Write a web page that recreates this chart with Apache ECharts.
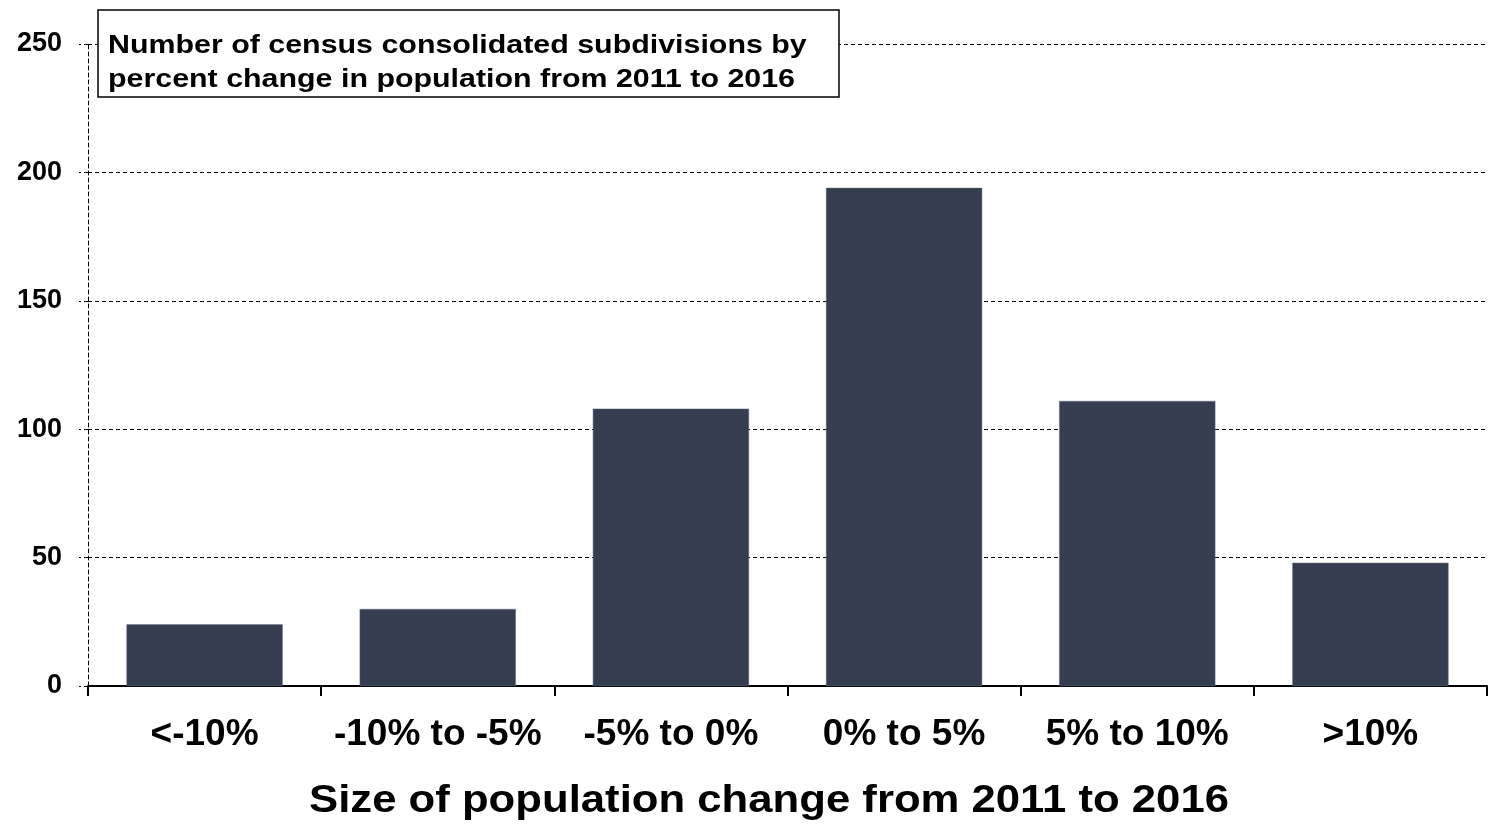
<!DOCTYPE html>
<html>
<head>
<meta charset="utf-8">
<script src="https://cdn.jsdelivr.net/npm/echarts@6/dist/echarts.min.js"></script>
<style>
  html, body { margin: 0; padding: 0; background: #ffffff; }
  #chart { width: 1497px; height: 827px; }
</style>
</head>
<body>
<div id="chart"></div>
<script>
// Census consolidated subdivisions grouped by population change, 2011–2016
const categories = ['<-10%', '-10% to -5%', '-5% to 0%', '0% to 5%', '5% to 10%', '>10%'];
const counts = [24, 30, 108, 194, 111, 48];
const yTicks = [0, 50, 100, 150, 200, 250];

const titleText = 'Number of census consolidated subdivisions by\npercent change in population from 2011 to 2016';
const axisTitle = 'Size of population change from 2011 to 2016';

const FONT = 'Liberation Sans, Arial, sans-serif';
const chart = echarts.init(document.getElementById('chart'), null, { renderer: 'canvas' });

chart.setOption({
  animation: false,
  backgroundColor: '#ffffff',
  grid: { left: 88, right: 10, top: 44, bottom: 141, containLabel: false },
  xAxis: {
    type: 'category',
    data: categories,
    axisLine: { lineStyle: { color: '#000000', width: 2 } },
    axisTick: { show: true, interval: 0, length: 10, lineStyle: { color: '#000000', width: 2 } },
    axisLabel: {
      interval: 0,
      margin: 30,
      fontFamily: FONT,
      fontWeight: 'bold',
      fontSize: 37,
      color: '#000000'
    }
  },
  yAxis: {
    type: 'value',
    min: 0,
    max: yTicks[yTicks.length - 1],
    interval: yTicks[1] - yTicks[0],
    axisLine: { show: true, lineStyle: { color: '#000000', width: 1, type: [4, 3] } },
    axisTick: { show: true, length: 9, lineStyle: { color: '#000000', width: 1, type: [4, 3] } },
    splitLine: { show: true, lineStyle: { color: '#000000', width: 1, type: [4, 3] } },
    axisLabel: {
      margin: 26,
      fontFamily: FONT,
      fontWeight: 'bold',
      fontSize: 27,
      color: '#000000'
    }
  },
  graphic: [
    // boxed chart title
    {
      type: 'rect',
      x: 98, y: 10,
      z: 100,
      shape: { width: 741, height: 87 },
      style: { fill: '#ffffff', stroke: '#000000', lineWidth: 1.5 }
    },
    {
      type: 'text',
      x: 108, y: 29,
      z: 101,
      scaleX: 1.215,
      style: {
        text: titleText,
        fontFamily: FONT,
        fontWeight: 'bold',
        fontSize: 25,
        lineHeight: 34,
        verticalAlign: 'top',
        align: 'left',
        fill: '#000000'
      }
    },
    // category axis title
    {
      type: 'text',
      x: 769, y: 801,
      scaleX: 1.12,
      style: {
        text: axisTitle,
        fontFamily: FONT,
        fontWeight: 'bold',
        fontSize: 39,
        align: 'center',
        verticalAlign: 'middle',
        fill: '#000000'
      }
    }
  ],
  series: [{
    type: 'bar',
    data: counts,
    barWidth: '67%',
    itemStyle: { color: '#343e50', borderColor: '#6b7383', borderWidth: 0.5 }
  }]
});
</script>
</body>
</html>
